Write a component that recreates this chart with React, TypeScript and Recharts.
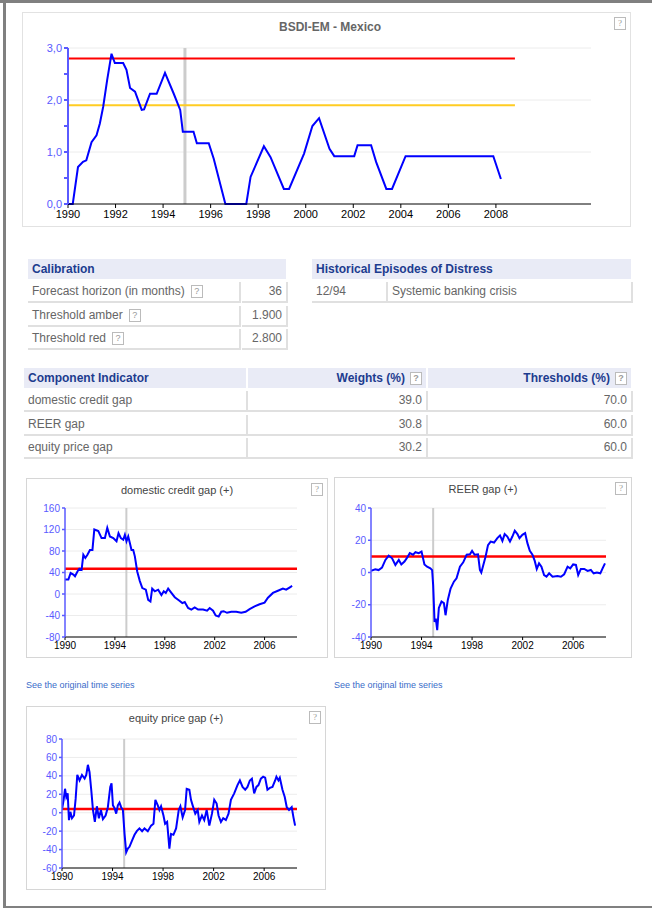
import React from 'react';
import { LineChart, Line, XAxis, YAxis, CartesianGrid, ReferenceLine } from 'recharts';

// BSDI composite indicator, [year, value]
const bsdiSeries: [number, number][] = [
  [1990.0, 0], [1990.2, 0], [1990.42, 0.71], [1990.63, 0.81], [1990.77, 0.84], [1990.99, 1.19],
  [1991.2, 1.32], [1991.34, 1.55], [1991.48, 1.87], [1991.65, 2.39], [1991.83, 2.89], [1991.97, 2.71],
  [1992.32, 2.71], [1992.46, 2.58], [1992.61, 2.23], [1992.82, 2.16], [1993.1, 1.81], [1993.2, 1.82],
  [1993.45, 2.12], [1993.73, 2.12], [1994.08, 2.52], [1994.44, 2.13], [1994.72, 1.81], [1994.83, 1.39],
  [1995.28, 1.39], [1995.42, 1.17], [1995.92, 1.17], [1996.13, 0.87], [1996.62, 0], [1997.5, 0],
  [1997.68, 0.52], [1998.24, 1.11], [1998.52, 0.9], [1999.08, 0.29], [1999.3, 0.29], [1999.93, 0.97],
  [2000.28, 1.5], [2000.56, 1.65], [2001.0, 1.06], [2001.2, 0.92], [2002.04, 0.92], [2002.18, 1.13],
  [2002.75, 1.13], [2002.96, 0.81], [2003.39, 0.29], [2003.63, 0.29], [2004.2, 0.92], [2007.89, 0.92],
  [2008.0, 0.77], [2008.21, 0.48],
];

const creditSeries: [number, number][] = [
  [1990.0, 27], [1990.27, 27], [1990.45, 39], [1990.67, 36], [1990.8, 33], [1991.0, 42], [1991.15, 47],
  [1991.33, 45], [1991.47, 73], [1991.63, 67], [1991.8, 73], [1992.0, 82], [1992.2, 82], [1992.35, 120],
  [1992.67, 117], [1992.93, 104], [1993.2, 104], [1993.39, 123], [1993.6, 107], [1993.87, 104],
  [1994.13, 98], [1994.29, 113], [1994.48, 104], [1994.67, 101], [1994.8, 110], [1994.93, 98],
  [1995.07, 107], [1995.2, 95], [1995.33, 82], [1995.47, 82], [1995.6, 70], [1995.79, 42], [1996.0, 24],
  [1996.2, 11], [1996.48, 8], [1996.67, -11], [1996.85, -14], [1996.99, 10], [1997.2, 5], [1997.47, 8],
  [1997.73, -2], [1997.92, 5], [1998.08, 2], [1998.27, 10], [1998.53, 2], [1998.8, -6], [1999.15, -12],
  [1999.41, -17], [1999.6, -15], [1999.87, -26], [2000.13, -29], [2000.4, -25], [2000.67, -29],
  [2001.07, -29], [2001.39, -31], [2001.6, -26], [2001.87, -31], [2002.08, -40], [2002.32, -42],
  [2002.53, -33], [2002.72, -32], [2002.99, -35], [2003.33, -33], [2003.73, -33], [2004.13, -35],
  [2004.48, -33], [2004.8, -28], [2005.2, -23], [2005.6, -19], [2006.0, -16], [2006.27, -7],
  [2006.67, 2], [2007.07, 6], [2007.47, 10], [2007.73, 8], [2008.0, 12], [2008.21, 15],
];

const reerSeries: [number, number][] = [
  [1990.0, 1], [1990.34, 2], [1990.6, 1.5], [1990.87, 3], [1991.14, 7.8], [1991.4, 10.5], [1991.67, 8.8],
  [1991.93, 4.7], [1992.2, 7.8], [1992.4, 5], [1992.65, 6.8], [1992.86, 9.2], [1993.07, 12], [1993.33, 11],
  [1993.52, 12.6], [1993.78, 12], [1994.0, 13], [1994.23, 5], [1994.44, 3.6], [1994.7, 2.6], [1994.84, 1.5],
  [1994.92, -8], [1995.03, -30.6], [1995.13, -28.6], [1995.24, -35.8], [1995.37, -22], [1995.58, -18],
  [1995.77, -19], [1995.9, -26.5], [1996.08, -17], [1996.3, -10], [1996.56, -5.7], [1996.77, -3.6],
  [1997.04, 3.6], [1997.3, 6.3], [1997.57, 11], [1997.83, 11.3], [1998.0, 13.4], [1998.2, 11],
  [1998.47, 11.3], [1998.62, 1.6], [1998.73, 0], [1998.89, 4.7], [1999.07, 9.9], [1999.26, 17],
  [1999.47, 19.2], [1999.74, 18.6], [2000.0, 21.3], [2000.21, 23], [2000.4, 19.6], [2000.58, 23.8],
  [2000.79, 22.3], [2001.0, 19.2], [2001.19, 22.3], [2001.38, 25.9], [2001.59, 23.8], [2001.75, 21.3],
  [2001.98, 23.4], [2002.2, 24.4], [2002.38, 18.2], [2002.57, 13.4], [2002.78, 11], [2002.96, 7.2],
  [2003.12, 2.2], [2003.3, 5.7], [2003.49, 3.6], [2003.7, -1.6], [2003.89, -2.6], [2004.1, -0.5],
  [2004.37, -2.6], [2004.76, -2.2], [2005.03, -2.6], [2005.29, -1.1], [2005.56, 3.6], [2005.77, 2.6],
  [2006.0, 5], [2006.22, 4.7], [2006.4, -1.6], [2006.61, 2.2], [2006.88, 2.2], [2007.14, 1], [2007.4, 1.6],
  [2007.62, -0.5], [2007.88, 0], [2008.15, -0.5], [2008.33, 2.6], [2008.52, 5.7],
];

const equitySeries: [number, number][] = [
  [1990.0, 3], [1990.13, 14], [1990.24, 26], [1990.34, 17], [1990.45, 21], [1990.55, -8], [1990.66, 1],
  [1990.79, -6], [1990.95, -3], [1991.08, 15], [1991.21, 41], [1991.39, 35], [1991.58, 41], [1991.79, 37],
  [1991.92, 41], [1992.05, 52], [1992.18, 44], [1992.32, 24], [1992.45, 3], [1992.6, -10], [1992.76, 7],
  [1992.92, -6], [1993.08, 3], [1993.24, -7], [1993.45, -3], [1993.63, 6], [1993.82, 28], [1993.92, 32],
  [1994.03, 8], [1994.16, 5], [1994.29, -1], [1994.42, 8], [1994.55, 11], [1994.68, 6], [1994.82, 3],
  [1994.95, -23], [1995.08, -43], [1995.21, -39], [1995.34, -37], [1995.55, -30], [1995.74, -24],
  [1995.92, -20], [1996.13, -17], [1996.34, -20], [1996.53, -17], [1996.79, -20], [1997.05, -14],
  [1997.24, -12], [1997.39, 14], [1997.58, 8], [1997.71, 3], [1997.84, 7], [1998.03, -3], [1998.16, -12],
  [1998.32, -10], [1998.5, -39], [1998.63, -23], [1998.82, -24], [1999.03, -17], [1999.24, 3],
  [1999.37, 7], [1999.55, -5], [1999.74, 3], [1999.87, 26], [2000.08, 25], [2000.21, 14], [2000.34, 8],
  [2000.55, -1], [2000.74, 3], [2000.87, -10], [2001.08, -3], [2001.26, -8], [2001.45, 3], [2001.66, -14],
  [2001.87, -1], [2002.05, 14], [2002.24, 10], [2002.39, -3], [2002.58, -10], [2002.76, -6], [2002.97, -8],
  [2003.18, -1], [2003.37, 14], [2003.63, 21], [2003.89, 30], [2004.08, 35], [2004.29, 28], [2004.5, 25],
  [2004.68, 28], [2004.87, 35], [2005.03, 37], [2005.21, 21], [2005.39, 28], [2005.55, 30], [2005.74, 37],
  [2005.92, 39], [2006.08, 38], [2006.26, 25], [2006.45, 27], [2006.66, 28], [2006.87, 35], [2006.97, 39],
  [2007.13, 35], [2007.24, 38], [2007.45, 25], [2007.63, 17], [2007.79, 6], [2007.97, 3], [2008.18, 6],
  [2008.32, -5], [2008.45, -14],
];

const mainYearTicks = [1990, 1992, 1994, 1996, 1998, 2000, 2002, 2004, 2006, 2008];
const smallYearTicks = [1990, 1994, 1998, 2002, 2006];
const mainValueTicks = [0, 0.5, 1, 1.5, 2, 2.5, 3];
const creditTicks = [-80, -40, 0, 40, 80, 120, 160];
const reerTicks = [-40, -20, 0, 20, 40];
const equityTicks = [-60, -40, -20, 0, 20, 40, 60, 80];

const thresholdRed = 2.8;
const thresholdAmber = 1.9;
const thresholdEnd = 2008.8;
const crisisDate = 1994.92;
const creditThreshold = 47;
const reerThreshold = 10;
const equityThreshold = 4;

const calibrationRows = [
  ['Forecast horizon (in months)', '36'],
  ['Threshold amber', '1.900'],
  ['Threshold red', '2.800'],
];
const episodeRows = [['12/94', 'Systemic banking crisis']];
const componentRows = [
  ['domestic credit gap', '39.0', '70.0'],
  ['REER gap', '30.8', '60.0'],
  ['equity price gap', '30.2', '60.0'],
];

const toData = (s: [number, number][]) => s.map(([t, v]) => ({ t, v }));

const FONT = '"Liberation Sans", Arial, sans-serif';
const BLUE_AXIS = '#5a5aff';
const HEAD_BG = '#e9ebf6';
const HEAD_FG = '#1d3c8f';
const CELL_FG = '#666';
const CELL_LINE = '#e0e0e0';

function Help({ style }: { style?: React.CSSProperties }) {
  return (
    <span
      style={{
        display: 'inline-block', width: 10, height: 11, border: '1px solid #bbb', color: '#999',
        fontSize: 9, lineHeight: '11px', textAlign: 'center', verticalAlign: 'middle', background: '#fff',
        ...style,
      }}
    >?</span>
  );
}

function Box({ x, y, w, h, children }: { x: number; y: number; w: number; h: number; children?: React.ReactNode }) {
  return (
    <div style={{ position: 'absolute', left: x, top: y, width: w, height: h, fontFamily: FONT, fontSize: 12, boxSizing: 'border-box', overflow: 'hidden' }}>
      {children}
    </div>
  );
}

function HeadCell({ x, y, w, text, align = 'left', help = false }: { x: number; y: number; w: number; text: string; align?: 'left' | 'right'; help?: boolean }) {
  return (
    <Box x={x} y={y} w={w} h={20}>
      <div style={{ background: HEAD_BG, color: HEAD_FG, fontWeight: 'bold', height: 20, lineHeight: '20px', padding: '0 4px', textAlign: align }}>
        {text}{help && <Help style={{ marginLeft: 5 }} />}
      </div>
    </Box>
  );
}

function Cell({ x, y, w, text, align = 'left', help = false }: { x: number; y: number; w: number; text: string; align?: 'left' | 'right'; help?: boolean }) {
  return (
    <Box x={x} y={y} w={w} h={21}>
      <div style={{ color: CELL_FG, height: 19, lineHeight: '19px', padding: '0 4px', textAlign: align, borderBottom: `2px solid ${CELL_LINE}`, borderRight: `2px solid ${CELL_LINE}` }}>
        {text}{help && <Help style={{ marginLeft: 6 }} />}
      </div>
    </Box>
  );
}

type SmallProps = {
  x: number; y: number; w: number; h: number; title: string;
  data: [number, number][]; ticks: number[]; threshold: number;
  margin: { top: number; right: number; bottom: number; left: number }; yWidth: number; link?: boolean;
};

function SmallChart({ x, y, w, h, title, data, ticks, threshold, margin, yWidth, link }: SmallProps) {
  return (
    <>
      <div style={{ position: 'absolute', left: x, top: y, width: w, height: h, border: '1px solid #d6d6d6', boxSizing: 'border-box', background: '#fff' }} />
      <div style={{ position: 'absolute', left: x, top: y + 6, width: w, textAlign: 'center', fontFamily: FONT, fontSize: 11, color: '#444' }}>{title}</div>
      <Help style={{ position: 'absolute', left: x + w - 17, top: y + 5 }} />
      <div style={{ position: 'absolute', left: x, top: y }}>
        <LineChart width={w} height={h} data={toData(data)} margin={margin}>
          <CartesianGrid vertical={false} stroke="#ececec" />
          <XAxis
            type="number" dataKey="t" domain={[1990, 2008.6]} ticks={smallYearTicks} interval={0}
            allowDataOverflow height={16} tickSize={3} stroke="#000"
            tick={{ fill: '#000', fontSize: 10, fontFamily: FONT }}
          />
          <YAxis
            type="number" domain={[ticks[0], ticks[ticks.length - 1]]} ticks={ticks} interval={0}
            width={yWidth} tickSize={3} stroke={BLUE_AXIS} strokeWidth={1.5}
            tick={{ fill: BLUE_AXIS, fontSize: 10, fontFamily: FONT }}
          />
          <ReferenceLine x={crisisDate} stroke="#cccccc" strokeWidth={2} />
          <ReferenceLine y={threshold} stroke="#ff0000" strokeWidth={2.5} />
          <Line type="linear" dataKey="v" stroke="#0000ff" strokeWidth={2} dot={false} isAnimationActive={false} />
        </LineChart>
      </div>
      {link && (
        <div style={{ position: 'absolute', left: x, top: y + h + 22, fontFamily: FONT, fontSize: 9, color: '#3a6cc9' }}>
          See the original time series
        </div>
      )}
    </>
  );
}

export default function App() {
  return (
    <div style={{ position: 'absolute', left: 0, top: 0, width: 652, height: 908, background: '#fff', overflow: 'hidden' }}>
      {/* page frame */}
      <div style={{ position: 'absolute', left: 0, top: 0, width: 652, height: 3, background: '#808080' }} />
      <div style={{ position: 'absolute', left: 3, top: 0, width: 3, height: 908, background: '#808080' }} />
      <div style={{ position: 'absolute', left: 3, top: 906, width: 649, height: 2, background: '#808080' }} />

      {/* main BSDI chart */}
      <div style={{ position: 'absolute', left: 22, top: 12, width: 609, height: 215, border: '1px solid #e2e2e2', boxSizing: 'border-box' }} />
      <div style={{ position: 'absolute', left: 22, top: 20, width: 616, textAlign: 'center', fontFamily: FONT, fontSize: 12, fontWeight: 'bold', color: '#666' }}>
        BSDI-EM - Mexico
      </div>
      <Help style={{ position: 'absolute', left: 614, top: 17 }} />
      <div style={{ position: 'absolute', left: 22, top: 12 }}>
        <LineChart width={609} height={215} data={toData(bsdiSeries)} margin={{ top: 36, right: 40, bottom: 3, left: 0 }}>
          <CartesianGrid vertical={false} horizontalValues={[1, 2, 3]} stroke="#ececec" />
          <XAxis
            type="number" dataKey="t" domain={[1990, 2012]} ticks={mainYearTicks} interval={0}
            allowDataOverflow height={20} tickSize={4} stroke="#000"
            tick={{ fill: '#000', fontSize: 11, fontFamily: FONT }}
          />
          <YAxis
            type="number" domain={[0, 3]} ticks={mainValueTicks} interval={0} width={46} tickSize={4}
            stroke={BLUE_AXIS} strokeWidth={2}
            tickFormatter={(v: number) => (Number.isInteger(v) ? v.toFixed(1).replace('.', ',') : '')}
            tick={{ fill: BLUE_AXIS, fontSize: 11, fontFamily: FONT }}
          />
          <ReferenceLine x={crisisDate} stroke="#cccccc" strokeWidth={3} />
          <ReferenceLine segment={[{ x: 1990, y: thresholdRed }, { x: thresholdEnd, y: thresholdRed }]} stroke="#ff0000" strokeWidth={2} />
          <ReferenceLine segment={[{ x: 1990, y: thresholdAmber }, { x: thresholdEnd, y: thresholdAmber }]} stroke="#ffcc22" strokeWidth={2} />
          <Line type="linear" dataKey="v" stroke="#0000ff" strokeWidth={2} dot={false} isAnimationActive={false} />
        </LineChart>
      </div>

      {/* calibration table */}
      <HeadCell x={28} y={259} w={258} text="Calibration" />
      {calibrationRows.map(([label, val], i) => (
        <React.Fragment key={label}>
          <Cell x={28} y={282 + i * 23.5} w={213} text={label} help />
          <Cell x={242} y={282 + i * 23.5} w={46} text={val} align="right" />
        </React.Fragment>
      ))}

      {/* episodes table */}
      <HeadCell x={312} y={259} w={319} text="Historical Episodes of Distress" />
      {episodeRows.map(([date, desc]) => (
        <React.Fragment key={date}>
          <Cell x={312} y={282} w={76} text={date} />
          <Cell x={388} y={282} w={245} text={desc} />
        </React.Fragment>
      ))}

      {/* component table */}
      <HeadCell x={24} y={368} w={222} text="Component Indicator" />
      <HeadCell x={248} y={368} w={178} text="Weights (%)" align="right" help />
      <HeadCell x={428} y={368} w={203} text="Thresholds (%)" align="right" help />
      {componentRows.map(([name, w, t], i) => (
        <React.Fragment key={name}>
          <Cell x={24} y={391 + i * 23.5} w={224} text={name} />
          <Cell x={248} y={391 + i * 23.5} w={180} text={w} align="right" />
          <Cell x={428} y={391 + i * 23.5} w={205} text={t} align="right" />
        </React.Fragment>
      ))}

      <SmallChart
        x={26} y={478} w={302} h={180} title="domestic credit gap (+)" data={creditSeries}
        ticks={creditTicks} threshold={creditThreshold} yWidth={39}
        margin={{ top: 30, right: 31, bottom: 5, left: 0 }} link
      />
      <SmallChart
        x={334} y={477} w={298} h={181} title="REER gap (+)" data={reerSeries}
        ticks={reerTicks} threshold={reerThreshold} yWidth={37}
        margin={{ top: 31, right: 26, bottom: 5, left: 0 }} link
      />
      <SmallChart
        x={26} y={706} w={300} h={184} title="equity price gap (+)" data={equitySeries}
        ticks={equityTicks} threshold={equityThreshold} yWidth={36}
        margin={{ top: 33, right: 29, bottom: 6, left: 0 }}
      />
    </div>
  );
}
